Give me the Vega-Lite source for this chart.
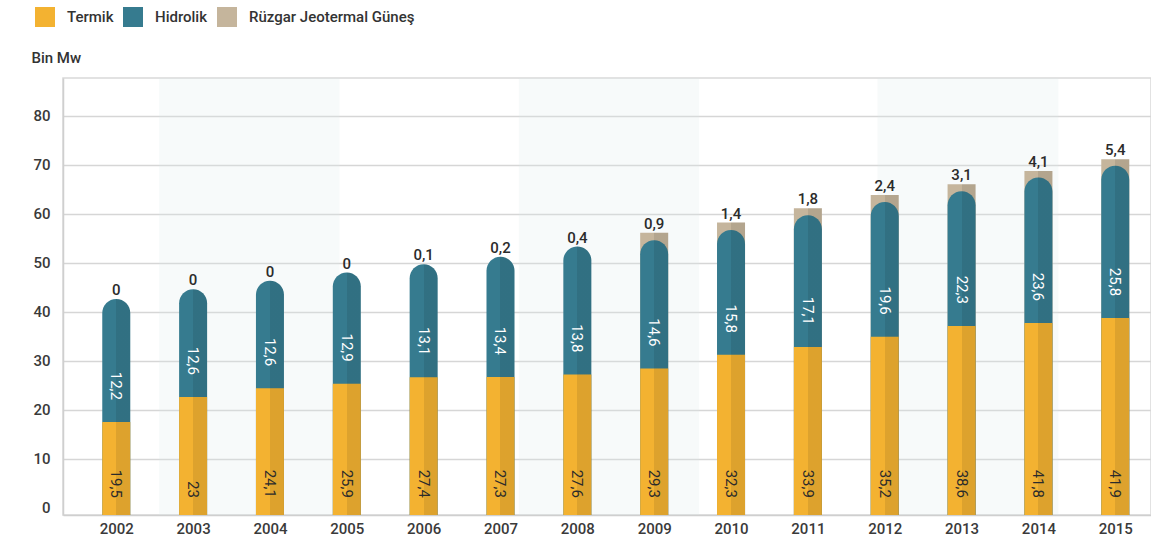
{
  "$schema": "https://vega.github.io/schema/vega-lite/v6.json",
  "width": 1088,
  "height": 437,
  "autosize": {"type": "none"},
  "padding": {"left": 63, "top": 78, "right": 0, "bottom": 25},
  "background": "white",
  "config": {
    "view": {"stroke": "#d9d9d9", "strokeWidth": 1.5},
    "font": "Roboto, DejaVu Sans, sans-serif",
    "locale": {"number": {"decimal": ",", "thousands": ".", "grouping": [3], "currency": ["", " TL"]}},
    "axis": {"domainColor": "#cfcfcf", "domainWidth": 1.5, "ticks": false, "labelFont": "Roboto", "labelFontSize": 15, "labelFontWeight": 500, "labelColor": "#3a3a3a"}
  },
  "datasets": {
    "kapasite": [
      {"yil": 2002, "termik": 17.5, "hidrolik": 42.6, "yenilenebilir": null, "termikDeger": 19.5, "hidrolikDeger": 12.2, "yenDeger": 0},
      {"yil": 2003, "termik": 22.6, "hidrolik": 44.6, "yenilenebilir": null, "termikDeger": 23, "hidrolikDeger": 12.6, "yenDeger": 0},
      {"yil": 2004, "termik": 24.4, "hidrolik": 46.3, "yenilenebilir": null, "termikDeger": 24.1, "hidrolikDeger": 12.6, "yenDeger": 0},
      {"yil": 2005, "termik": 25.3, "hidrolik": 48.0, "yenilenebilir": null, "termikDeger": 25.9, "hidrolikDeger": 12.9, "yenDeger": 0},
      {"yil": 2006, "termik": 26.6, "hidrolik": 49.7, "yenilenebilir": null, "termikDeger": 27.4, "hidrolikDeger": 13.1, "yenDeger": 0.1},
      {"yil": 2007, "termik": 26.7, "hidrolik": 51.2, "yenilenebilir": null, "termikDeger": 27.3, "hidrolikDeger": 13.4, "yenDeger": 0.2},
      {"yil": 2008, "termik": 27.2, "hidrolik": 53.3, "yenilenebilir": null, "termikDeger": 27.6, "hidrolikDeger": 13.8, "yenDeger": 0.4},
      {"yil": 2009, "termik": 28.4, "hidrolik": 54.6, "yenilenebilir": 56.1, "termikDeger": 29.3, "hidrolikDeger": 14.6, "yenDeger": 0.9},
      {"yil": 2010, "termik": 31.2, "hidrolik": 56.7, "yenilenebilir": 58.2, "termikDeger": 32.3, "hidrolikDeger": 15.8, "yenDeger": 1.4},
      {"yil": 2011, "termik": 32.8, "hidrolik": 59.7, "yenilenebilir": 61.1, "termikDeger": 33.9, "hidrolikDeger": 17.1, "yenDeger": 1.8},
      {"yil": 2012, "termik": 34.9, "hidrolik": 62.4, "yenilenebilir": 63.8, "termikDeger": 35.2, "hidrolikDeger": 19.6, "yenDeger": 2.4},
      {"yil": 2013, "termik": 37.1, "hidrolik": 64.6, "yenilenebilir": 66.0, "termikDeger": 38.6, "hidrolikDeger": 22.3, "yenDeger": 3.1},
      {"yil": 2014, "termik": 37.7, "hidrolik": 67.4, "yenilenebilir": 68.7, "termikDeger": 41.8, "hidrolikDeger": 23.6, "yenDeger": 4.1},
      {"yil": 2015, "termik": 38.7, "hidrolik": 69.8, "yenilenebilir": 71.1, "termikDeger": 41.9, "hidrolikDeger": 25.8, "yenDeger": 5.4}
    ],
    "seritler": [
      {"bas": 2002.558, "son": 2004.905},
      {"bas": 2007.239, "son": 2009.585},
      {"bas": 2011.906, "son": 2014.26}
    ]
  },
  "data": {"name": "kapasite"},
  "encoding": {
    "x": {
      "field": "yil",
      "type": "quantitative",
      "scale": {"domain": [2001.372, 2015.4], "nice": false, "zero": false},
      "axis": {"title": null, "values": [2002, 2003, 2004, 2005, 2006, 2007, 2008, 2009, 2010, 2011, 2012, 2013, 2014, 2015], "format": "d", "grid": false, "labelPadding": 6, "labelFlush": false}
    }
  },
  "layer": [
    {
      "data": {"name": "seritler"},
      "mark": {"type": "rect", "fill": "#dbe6e6", "opacity": 0.22},
      "encoding": {
        "x": {"field": "bas", "type": "quantitative"},
        "x2": {"field": "son"}
      }
    },
    {
      "mark": {"type": "bar", "width": 28},
      "encoding": {
        "y": {
          "field": "yenilenebilir",
          "type": "quantitative",
          "scale": {"domain": [-1.49, 87.7], "nice": false, "zero": false},
          "axis": {
            "title": "Bin Mw",
            "titleAngle": 0,
            "titleAlign": "left",
            "titleBaseline": "middle",
            "titleX": -32,
            "titleY": -21,
            "titleFont": "Roboto",
            "titleFontSize": 15,
            "titleFontWeight": 500,
            "titleColor": "#333333",
            "values": [0, 10, 20, 30, 40, 50, 60, 70, 80],
            "grid": true,
            "gridColor": {"condition": {"test": "datum.value === 0", "value": "transparent"}, "value": "#d6d6d6"},
            "gridWidth": 1.5,
            "labelPadding": 13
          }
        },
        "y2": {"datum": -1.49},
        "color": {
          "datum": "Rüzgar Jeotermal Güneş",
          "scale": {"domain": ["Termik", "Hidrolik", "Rüzgar Jeotermal Güneş"], "range": ["#f3b231", "#367b8f", "#c5b59c"]},
          "legend": {
            "title": null,
            "orient": "none",
            "legendX": -28,
            "legendY": -71,
            "direction": "horizontal",
            "symbolType": "square",
            "symbolSize": 400,
            "symbolStrokeWidth": 0,
            "labelFont": "Roboto",
            "labelFontSize": 15,
            "labelFontWeight": 500,
            "labelColor": "#333333",
            "labelOffset": 12,
            "labelLimit": 400,
            "columnPadding": 9,
            "padding": 0
          }
        }
      }
    },
    {
      "mark": {"type": "bar", "width": 28, "fill": {"gradient": "linear", "x1": 0, "y1": 0, "x2": 1, "y2": 0, "stops": [{"offset": 0, "color": "rgba(0,0,0,0)"}, {"offset": 0.5, "color": "rgba(0,0,0,0)"}, {"offset": 0.5, "color": "rgba(0,0,0,0.09)"}, {"offset": 1, "color": "rgba(0,0,0,0.09)"}]}},
      "encoding": {
        "y": {"field": "yenilenebilir", "type": "quantitative"},
        "y2": {"datum": -1.49}
      }
    },
    {
      "mark": {"type": "bar", "width": 28, "cornerRadiusTopLeft": 14, "cornerRadiusTopRight": 14},
      "encoding": {
        "y": {"field": "hidrolik", "type": "quantitative"},
        "y2": {"datum": -1.49},
        "color": {"datum": "Hidrolik"}
      }
    },
    {
      "mark": {"type": "bar", "width": 28, "cornerRadiusTopLeft": 14, "cornerRadiusTopRight": 14, "fill": {"gradient": "linear", "x1": 0, "y1": 0, "x2": 1, "y2": 0, "stops": [{"offset": 0, "color": "rgba(0,0,0,0)"}, {"offset": 0.5, "color": "rgba(0,0,0,0)"}, {"offset": 0.5, "color": "rgba(0,0,0,0.09)"}, {"offset": 1, "color": "rgba(0,0,0,0.09)"}]}},
      "encoding": {
        "y": {"field": "hidrolik", "type": "quantitative"},
        "y2": {"datum": -1.49}
      }
    },
    {
      "mark": {"type": "bar", "width": 28},
      "encoding": {
        "y": {"field": "termik", "type": "quantitative"},
        "y2": {"datum": -1.49},
        "color": {"datum": "Termik"}
      }
    },
    {
      "mark": {"type": "bar", "width": 28, "fill": {"gradient": "linear", "x1": 0, "y1": 0, "x2": 1, "y2": 0, "stops": [{"offset": 0, "color": "rgba(0,0,0,0)"}, {"offset": 0.5, "color": "rgba(0,0,0,0)"}, {"offset": 0.5, "color": "rgba(0,0,0,0.09)"}, {"offset": 1, "color": "rgba(0,0,0,0.09)"}]}},
      "encoding": {
        "y": {"field": "termik", "type": "quantitative"},
        "y2": {"datum": -1.49}
      }
    },
    {
      "mark": {"type": "text", "angle": 90, "align": "right", "baseline": "middle", "font": "Roboto", "fontSize": 15, "color": "#2b2b2b"},
      "encoding": {
        "y": {"datum": 2},
        "text": {"field": "termikDeger", "type": "quantitative", "format": ".1~f"}
      }
    },
    {
      "mark": {"type": "text", "angle": 90, "align": "right", "baseline": "middle", "font": "Roboto", "fontSize": 15, "color": "#ffffff", "yOffset": -22},
      "encoding": {
        "y": {"field": "termik", "type": "quantitative"},
        "text": {"field": "hidrolikDeger", "type": "quantitative", "format": ".1~f"}
      }
    },
    {
      "transform": [{"filter": "datum.yenilenebilir != null"}],
      "mark": {"type": "text", "align": "center", "baseline": "alphabetic", "dy": -4, "font": "Roboto", "fontSize": 15, "fontWeight": 500, "color": "#2b2b2b"},
      "encoding": {
        "y": {"field": "yenilenebilir", "type": "quantitative"},
        "text": {"field": "yenDeger", "type": "quantitative", "format": ".1~f"}
      }
    },
    {
      "transform": [{"filter": "datum.yenilenebilir == null"}],
      "mark": {"type": "text", "align": "center", "baseline": "alphabetic", "dy": -4, "font": "Roboto", "fontSize": 15, "fontWeight": 500, "color": "#2b2b2b"},
      "encoding": {
        "y": {"field": "hidrolik", "type": "quantitative"},
        "text": {"field": "yenDeger", "type": "quantitative", "format": ".1~f"}
      }
    }
  ]
}
